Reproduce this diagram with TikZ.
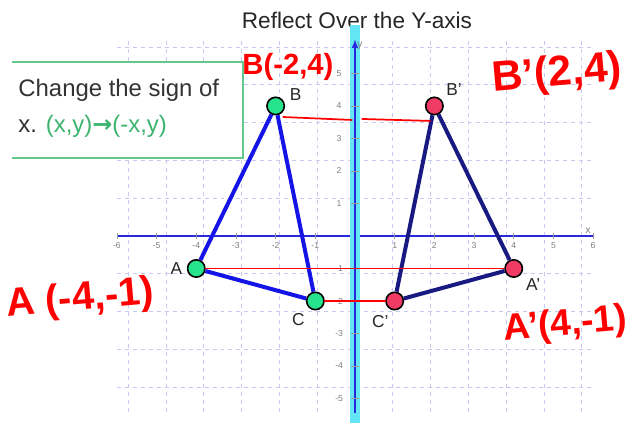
\documentclass[tikz,border=0pt]{standalone}
\usepackage{fontspec}
\setmainfont{Liberation Sans}
\newfontfamily\pfeilfont{DejaVu Sans}
\usepackage{tikz}
\usetikzlibrary{arrows}
\definecolor{punktgruen}{RGB}{38,227,140}
\definecolor{punktrot}{RGB}{240,60,100}
\definecolor{dreieckblau}{RGB}{20,20,230}
\definecolor{dreiecknavy}{RGB}{25,25,130}
\definecolor{spiegelcyan}{RGB}{100,230,245}
\definecolor{achsblau}{RGB}{40,40,220}
\definecolor{rasterlila}{RGB}{200,200,240}
\definecolor{kastengruen}{RGB}{100,200,140}
\definecolor{textgruen}{RGB}{60,180,110}
\definecolor{handrot}{RGB}{255,0,0}

\begin{document}
\begin{tikzpicture}[x=1.05cm, y=0.86cm,
        >=latex,   %Voreinstellung für Pfeilspitzen
        font=\footnotesize,
        punkt/.style={circle, draw=black, line width=1.2pt, minimum size=0.46cm, inner sep=0pt},
        punktname/.style={font=\fontsize{13}{13}\selectfont, text=black!85},
        kante/.style={line width=3pt, line join=round},
        spiegellinie/.style={draw=handrot, line width=1.3pt, line cap=round},
        hand/.style={text=handrot, font=\bfseries\fontsize{#1}{#1}\selectfont},
        skala/.style={text=black!50, font=\fontsize{6.5}{6.5}\selectfont, inner sep=1pt}]
        %Bildbereich
        \useasboundingbox (-9.393cm,-4.948cm) rectangle (7.567cm,6.244cm);
        %Raster zeichnen
        \draw[color=rasterlila, dashed, line width=0.6pt] (-6,-5.4) grid (6,6);
        %Ueberschrift
        \node[font=\fontsize{17}{17}\selectfont, text=black!85] (titel) at (0.05,6.62) {Reflect Over the Y-axis};
        %Kasten mit Regel
        \fill[white] (-8.94,2.4) rectangle (-2.82,5.354);
        \draw[kastengruen, line width=1.5pt] (-8.64,5.354) -- (-2.82,5.354) -- (-2.82,2.4) -- (-8.64,2.4);
        \node[anchor=base west, font=\fontsize{18}{18}\selectfont, text=black!80] (regel1) at (-8.6,4.28) {Change the sign of};
        \node[anchor=base west, font=\fontsize{18}{18}\selectfont, text=black!80] (regel2) at (-8.6,3.17) {x. \textcolor{textgruen}{(x,y){\pfeilfont\bfseries →}(-x,y)}};
        % Achsen zeichnen
        \draw[achsblau, line width=1.5pt] (-6,0) -- (6,0) node[above left, skala, font=\fontsize{8}{8}\selectfont] (xname) {x};
        \draw[spiegelcyan, line width=7pt] (0,-5.75) -- (0,6.49);
        \draw[->, achsblau, line width=1.2pt] (0,-5.45) -- (0,6.05) node[below right, skala, font=\fontsize{8}{8}\selectfont] (yname) {y};
        % Achsen beschriften
        \foreach \x in {-6,-5,-4,-3,-2,-1,1,2,3,4,5,6} \draw[black!40] (\x,-.1) -- (\x,.1) node[skala, name=xs\x] at (\x,-.3) {\x};
        \foreach \y in {-5,-4,-3,-2,-1,1,2,3,4,5} \draw[black!40] (-.1,\y) -- (.1,\y) node[skala, name=ys\y] at (-.4,\y) {\y};
        %Punkte
        \node[punkt, fill=punktgruen, label={[punktname]5:B}] (B) at (-2,4) {};
        \node[punkt, fill=punktgruen, label={[punktname]180:A}] (A) at (-4,-1) {};
        \node[punkt, fill=punktgruen, label={[punktname]230:C}] (C) at (-1,-2) {};
        \node[punkt, fill=punktrot, label={[punktname]40:B'}] (B') at (2,4) {};
        \node[punkt, fill=punktrot, label={[punktname]-35:A'}] (A') at (4,-1) {};
        \node[punkt, fill=punktrot, label={[punktname]-100:C'}] (C') at (1,-2) {};
        %Dreiecke
        \draw[kante, dreieckblau] (A) -- (B) -- (C) -- (A);
        \draw[kante, dreiecknavy] (A') -- (B') -- (C') -- (A');
        %Spiegellinien
        \coordinate (b1) at (-1.81,3.66);
        \coordinate (b2) at (-0.08,3.57);
        \coordinate (b3) at (0.18,3.6);
        \coordinate (b4) at (1.89,3.54);
        \draw[spiegellinie] (b1) -- (b2);
        \draw[spiegellinie] (b3) -- (b4);
        \draw[spiegellinie] (A) -- (A');
        \draw[spiegellinie] (C) -- (C');
        %Beschriftung
        \node[hand=22] (notizB) at (-1.69,5.2) {B(-2,4)};
        \node[hand=32, rotate=5] (notizBs) at (5.09,4.95) {B'(2,4)};
        \node[hand=30, rotate=5] (notizA) at (-6.93,-1.97) {A (-4,-1)};
        \node[hand=28, rotate=5] (notizAs) at (5.3,-2.75) {A'(4,-1)};
    \end{tikzpicture}
\end{document}
